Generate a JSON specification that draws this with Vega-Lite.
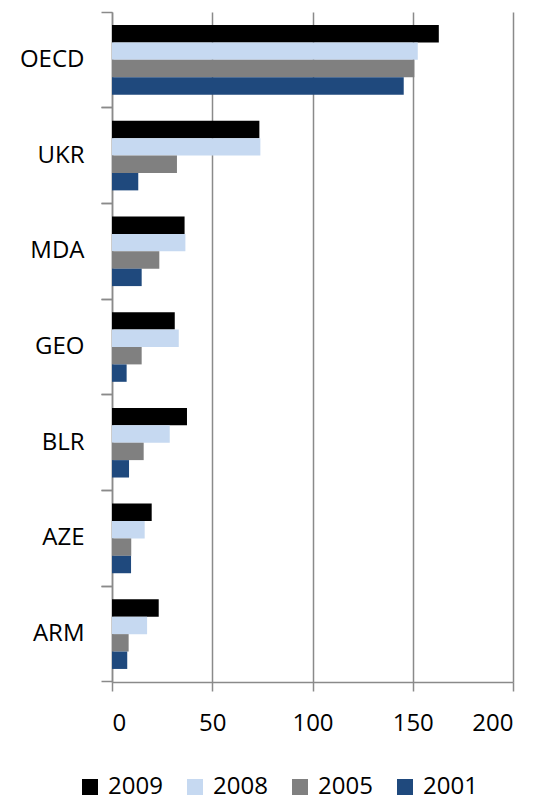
{
  "$schema": "https://vega.github.io/schema/vega-lite/v6.json",
  "width": 401,
  "height": 670,
  "autosize": "none",
  "padding": {"left": 112, "top": 12, "right": 26, "bottom": 113},
  "background": "white",
  "config": {
    "view": {"stroke": null},
    "font": "Open Sans",
    "axis": {"labelFont": "Open Sans", "labelFontSize": 24, "labelColor": "#000000"},
    "legend": {"labelFont": "Open Sans", "labelFontSize": 24, "labelColor": "#000000"}
  },
  "data": {
    "values": [
      {"country": "OECD", "year": "2009", "value": 163},
      {"country": "OECD", "year": "2008", "value": 152.5},
      {"country": "OECD", "year": "2005", "value": 150.8},
      {"country": "OECD", "year": "2001", "value": 145.5},
      {"country": "UKR", "year": "2009", "value": 73.5},
      {"country": "UKR", "year": "2008", "value": 74},
      {"country": "UKR", "year": "2005", "value": 32.4},
      {"country": "UKR", "year": "2001", "value": 13.1},
      {"country": "MDA", "year": "2009", "value": 36.2},
      {"country": "MDA", "year": "2008", "value": 36.6},
      {"country": "MDA", "year": "2005", "value": 23.6},
      {"country": "MDA", "year": "2001", "value": 14.8},
      {"country": "GEO", "year": "2009", "value": 31.3},
      {"country": "GEO", "year": "2008", "value": 33.3},
      {"country": "GEO", "year": "2005", "value": 14.8},
      {"country": "GEO", "year": "2001", "value": 7.3},
      {"country": "BLR", "year": "2009", "value": 37.4},
      {"country": "BLR", "year": "2008", "value": 28.8},
      {"country": "BLR", "year": "2005", "value": 15.8},
      {"country": "BLR", "year": "2001", "value": 8.5},
      {"country": "AZE", "year": "2009", "value": 19.8},
      {"country": "AZE", "year": "2008", "value": 16.3},
      {"country": "AZE", "year": "2005", "value": 9.6},
      {"country": "AZE", "year": "2001", "value": 9.5},
      {"country": "ARM", "year": "2009", "value": 23.3},
      {"country": "ARM", "year": "2008", "value": 17.5},
      {"country": "ARM", "year": "2005", "value": 8.3},
      {"country": "ARM", "year": "2001", "value": 7.6}
    ]
  },
  "layer": [
    {
      "mark": {"type": "bar"},
      "encoding": {
        "y": {
          "field": "country",
          "type": "nominal",
          "sort": ["OECD", "UKR", "MDA", "GEO", "BLR", "AZE", "ARM"],
          "scale": {"paddingInner": 0, "paddingOuter": 0},
          "axis": {
            "title": null,
            "bandPosition": 0,
            "labelPadding": 17,
            "tickSize": 11,
            "tickColor": "#8a8a8a",
            "tickWidth": 1.5,
            "domainColor": "#8a8a8a",
            "domainWidth": 1.5,
            "grid": false
          }
        },
        "yOffset": {
          "field": "year",
          "type": "nominal",
          "sort": ["2009", "2008", "2005", "2001"],
          "scale": {"paddingInner": 0, "paddingOuter": 0.75}
        },
        "x": {
          "field": "value",
          "type": "quantitative",
          "scale": {"domain": [0, 200]},
          "axis": {
            "title": null,
            "values": [0, 50, 100, 150, 200],
            "grid": true,
            "gridColor": "#8a8a8a",
            "gridWidth": 1.5,
            "domainColor": "#8a8a8a",
            "domainWidth": 1.5,
            "tickColor": "#8a8a8a",
            "tickWidth": 1.5,
            "tickSize": 9,
            "labelPadding": 20
          }
        },
        "color": {
          "field": "year",
          "type": "nominal",
          "sort": ["2009", "2008", "2005", "2001"],
          "scale": {"domain": ["2009", "2008", "2005", "2001"], "range": ["#000000", "#c6d9f1", "#808080", "#1f497d"]},
          "legend": {
            "title": null,
            "orient": "none",
            "direction": "horizontal",
            "legendX": -34,
            "legendY": 763,
            "symbolType": "square",
            "symbolSize": 256,
            "symbolStrokeWidth": 0,
            "symbolOpacity": 1,
            "labelOffset": 6,
            "columnPadding": 20
          }
        }
      }
    },
    {
      "mark": {"type": "bar", "opacity": 0},
      "encoding": {
        "y": {
          "field": "country",
          "type": "nominal",
          "sort": ["OECD", "UKR", "MDA", "GEO", "BLR", "AZE", "ARM"],
          "axis": {
            "orient": "left",
            "title": null,
            "bandPosition": 1,
            "labels": false,
            "domain": false,
            "tickSize": 11,
            "tickColor": "#8a8a8a",
            "tickWidth": 1.5,
            "grid": false
          }
        },
        "x": {"field": "value", "type": "quantitative"}
      }
    }
  ],
  "resolve": {"axis": {"y": "independent"}}
}
